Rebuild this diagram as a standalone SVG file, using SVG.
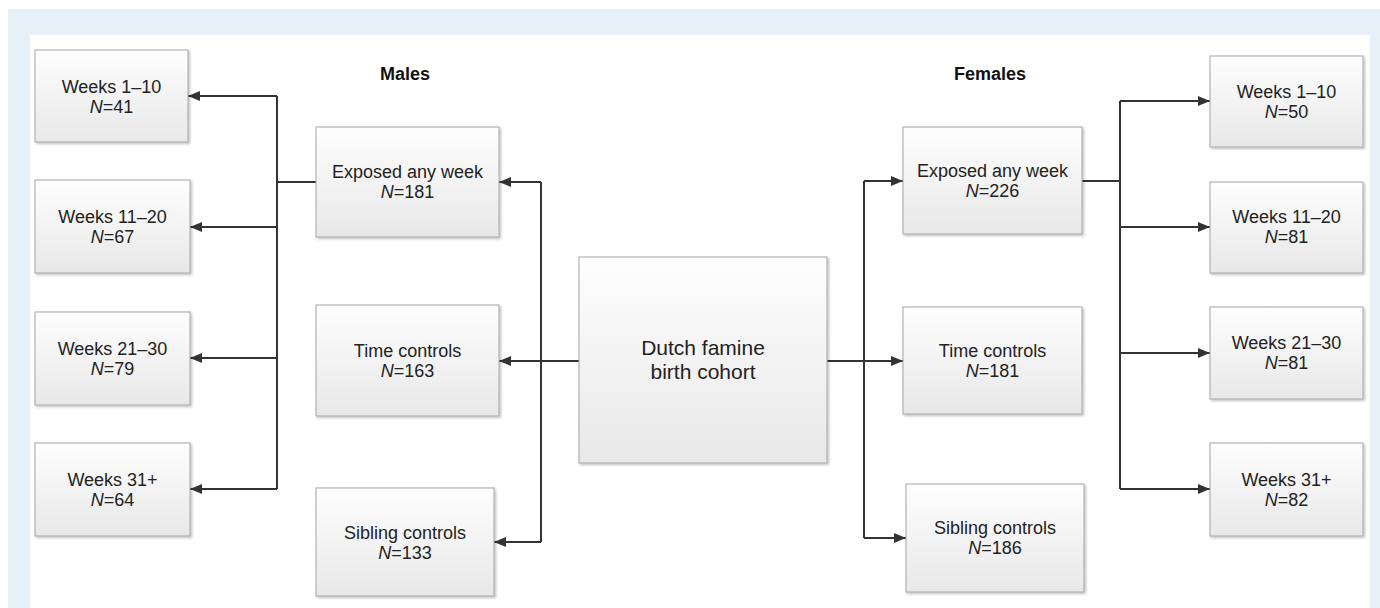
<svg xmlns="http://www.w3.org/2000/svg" width="1380" height="608" viewBox="0 0 1380 608">
<defs>
<linearGradient id="g" x1="0" y1="0" x2="0" y2="1">
<stop offset="0" stop-color="#fefefe"/>
<stop offset="1" stop-color="#e8e8e8"/>
</linearGradient>
<filter id="sh" x="-5%" y="-5%" width="115%" height="115%">
<feDropShadow dx="1.5" dy="1.5" stdDeviation="1" flood-color="#000" flood-opacity="0.25"/>
</filter>
<marker id="ah" viewBox="0 0 12 10" refX="12" refY="5" markerWidth="12" markerHeight="10" markerUnits="userSpaceOnUse" orient="auto">
<path d="M0,0 L12,5 L0,10 Z" fill="#333"/>
</marker>
</defs>
<style>
.box{fill:url(#g);stroke:#a6a6a6;stroke-width:1;filter:url(#sh)}
.t{font-family:"Liberation Sans",Arial,sans-serif;font-size:18px;fill:#222;text-anchor:middle}
.c{font-family:"Liberation Sans",Arial,sans-serif;font-size:21px;fill:#222;text-anchor:middle}
.h{font-family:"Liberation Sans",Arial,sans-serif;font-size:18px;font-weight:bold;fill:#111;text-anchor:middle}
.ln{fill:none;stroke:#333;stroke-width:2}
.ar{fill:none;stroke:#333;stroke-width:2;marker-end:url(#ah)}
</style>
<rect x="0" y="0" width="1380" height="608" fill="#fff"/>
<rect x="8" y="9" width="1372" height="599" fill="#e7eff9"/>
<rect x="30" y="35" width="1340" height="573" fill="#fff"/>

<text class="h" x="405" y="80">Males</text>
<text class="h" x="990" y="80">Females</text>

<g id="connectors">
<path class="ln" d="M316,182 H277"/>
<path class="ln" d="M277,96 V489"/>
<path class="ar" d="M277,96 H188"/>
<path class="ar" d="M277,227 H190"/>
<path class="ar" d="M277,358 H190"/>
<path class="ar" d="M277,489 H190"/>
<path class="ar" d="M579,361 H499"/>
<path class="ln" d="M541,182 V542"/>
<path class="ar" d="M541,182 H499"/>
<path class="ar" d="M541,542 H494"/>
<path class="ln" d="M827,361 H864"/>
<path class="ar" d="M864,361 H903"/>
<path class="ln" d="M864,181 V538"/>
<path class="ar" d="M864,181 H903"/>
<path class="ar" d="M864,538 H906"/>
<path class="ln" d="M1082,181 H1120"/>
<path class="ln" d="M1120,101 V489"/>
<path class="ar" d="M1120,101 H1210"/>
<path class="ar" d="M1120,227 H1210"/>
<path class="ar" d="M1120,353 H1210"/>
<path class="ar" d="M1120,489 H1210"/>
</g>

<g id="m-w1"><rect class="box" x="35" y="50" width="153" height="92"/>
<text class="t" x="111.5" y="93">Weeks 1–10</text><text class="t" x="111.5" y="113"><tspan font-style="italic">N</tspan>=41</text></g>
<g id="m-w2"><rect class="box" x="35" y="180" width="155" height="93"/>
<text class="t" x="112.5" y="223">Weeks 11–20</text><text class="t" x="112.5" y="243"><tspan font-style="italic">N</tspan>=67</text></g>
<g id="m-w3"><rect class="box" x="35" y="312" width="155" height="93"/>
<text class="t" x="112.5" y="355">Weeks 21–30</text><text class="t" x="112.5" y="375"><tspan font-style="italic">N</tspan>=79</text></g>
<g id="m-w4"><rect class="box" x="35" y="443" width="155" height="93"/>
<text class="t" x="112.5" y="486">Weeks 31+</text><text class="t" x="112.5" y="506"><tspan font-style="italic">N</tspan>=64</text></g>

<g id="m-exp"><rect class="box" x="316" y="127" width="183" height="110"/>
<text class="t" x="407.5" y="178">Exposed any week</text><text class="t" x="407.5" y="198"><tspan font-style="italic">N</tspan>=181</text></g>
<g id="m-time"><rect class="box" x="316" y="305" width="183" height="111"/>
<text class="t" x="407.5" y="357">Time controls</text><text class="t" x="407.5" y="377"><tspan font-style="italic">N</tspan>=163</text></g>
<g id="m-sib"><rect class="box" x="316" y="488" width="178" height="108"/>
<text class="t" x="405" y="539">Sibling controls</text><text class="t" x="405" y="559"><tspan font-style="italic">N</tspan>=133</text></g>

<g id="center"><rect class="box" x="579" y="257" width="248" height="206"/>
<text class="c" x="703" y="355">Dutch famine</text><text class="c" x="703" y="379">birth cohort</text></g>

<g id="f-exp"><rect class="box" x="903" y="127" width="179" height="107"/>
<text class="t" x="992.5" y="177">Exposed any week</text><text class="t" x="992.5" y="197"><tspan font-style="italic">N</tspan>=226</text></g>
<g id="f-time"><rect class="box" x="903" y="307" width="179" height="107"/>
<text class="t" x="992.5" y="357">Time controls</text><text class="t" x="992.5" y="377"><tspan font-style="italic">N</tspan>=181</text></g>
<g id="f-sib"><rect class="box" x="906" y="484" width="178" height="108"/>
<text class="t" x="995" y="534">Sibling controls</text><text class="t" x="995" y="554"><tspan font-style="italic">N</tspan>=186</text></g>

<g id="f-w1"><rect class="box" x="1210" y="56" width="153" height="91"/>
<text class="t" x="1286.5" y="98">Weeks 1–10</text><text class="t" x="1286.5" y="118"><tspan font-style="italic">N</tspan>=50</text></g>
<g id="f-w2"><rect class="box" x="1210" y="182" width="153" height="91"/>
<text class="t" x="1286.5" y="223">Weeks 11–20</text><text class="t" x="1286.5" y="243"><tspan font-style="italic">N</tspan>=81</text></g>
<g id="f-w3"><rect class="box" x="1210" y="307" width="153" height="92"/>
<text class="t" x="1286.5" y="349">Weeks 21–30</text><text class="t" x="1286.5" y="369"><tspan font-style="italic">N</tspan>=81</text></g>
<g id="f-w4"><rect class="box" x="1210" y="443" width="153" height="93"/>
<text class="t" x="1286.5" y="486">Weeks 31+</text><text class="t" x="1286.5" y="506"><tspan font-style="italic">N</tspan>=82</text></g>
</svg>
